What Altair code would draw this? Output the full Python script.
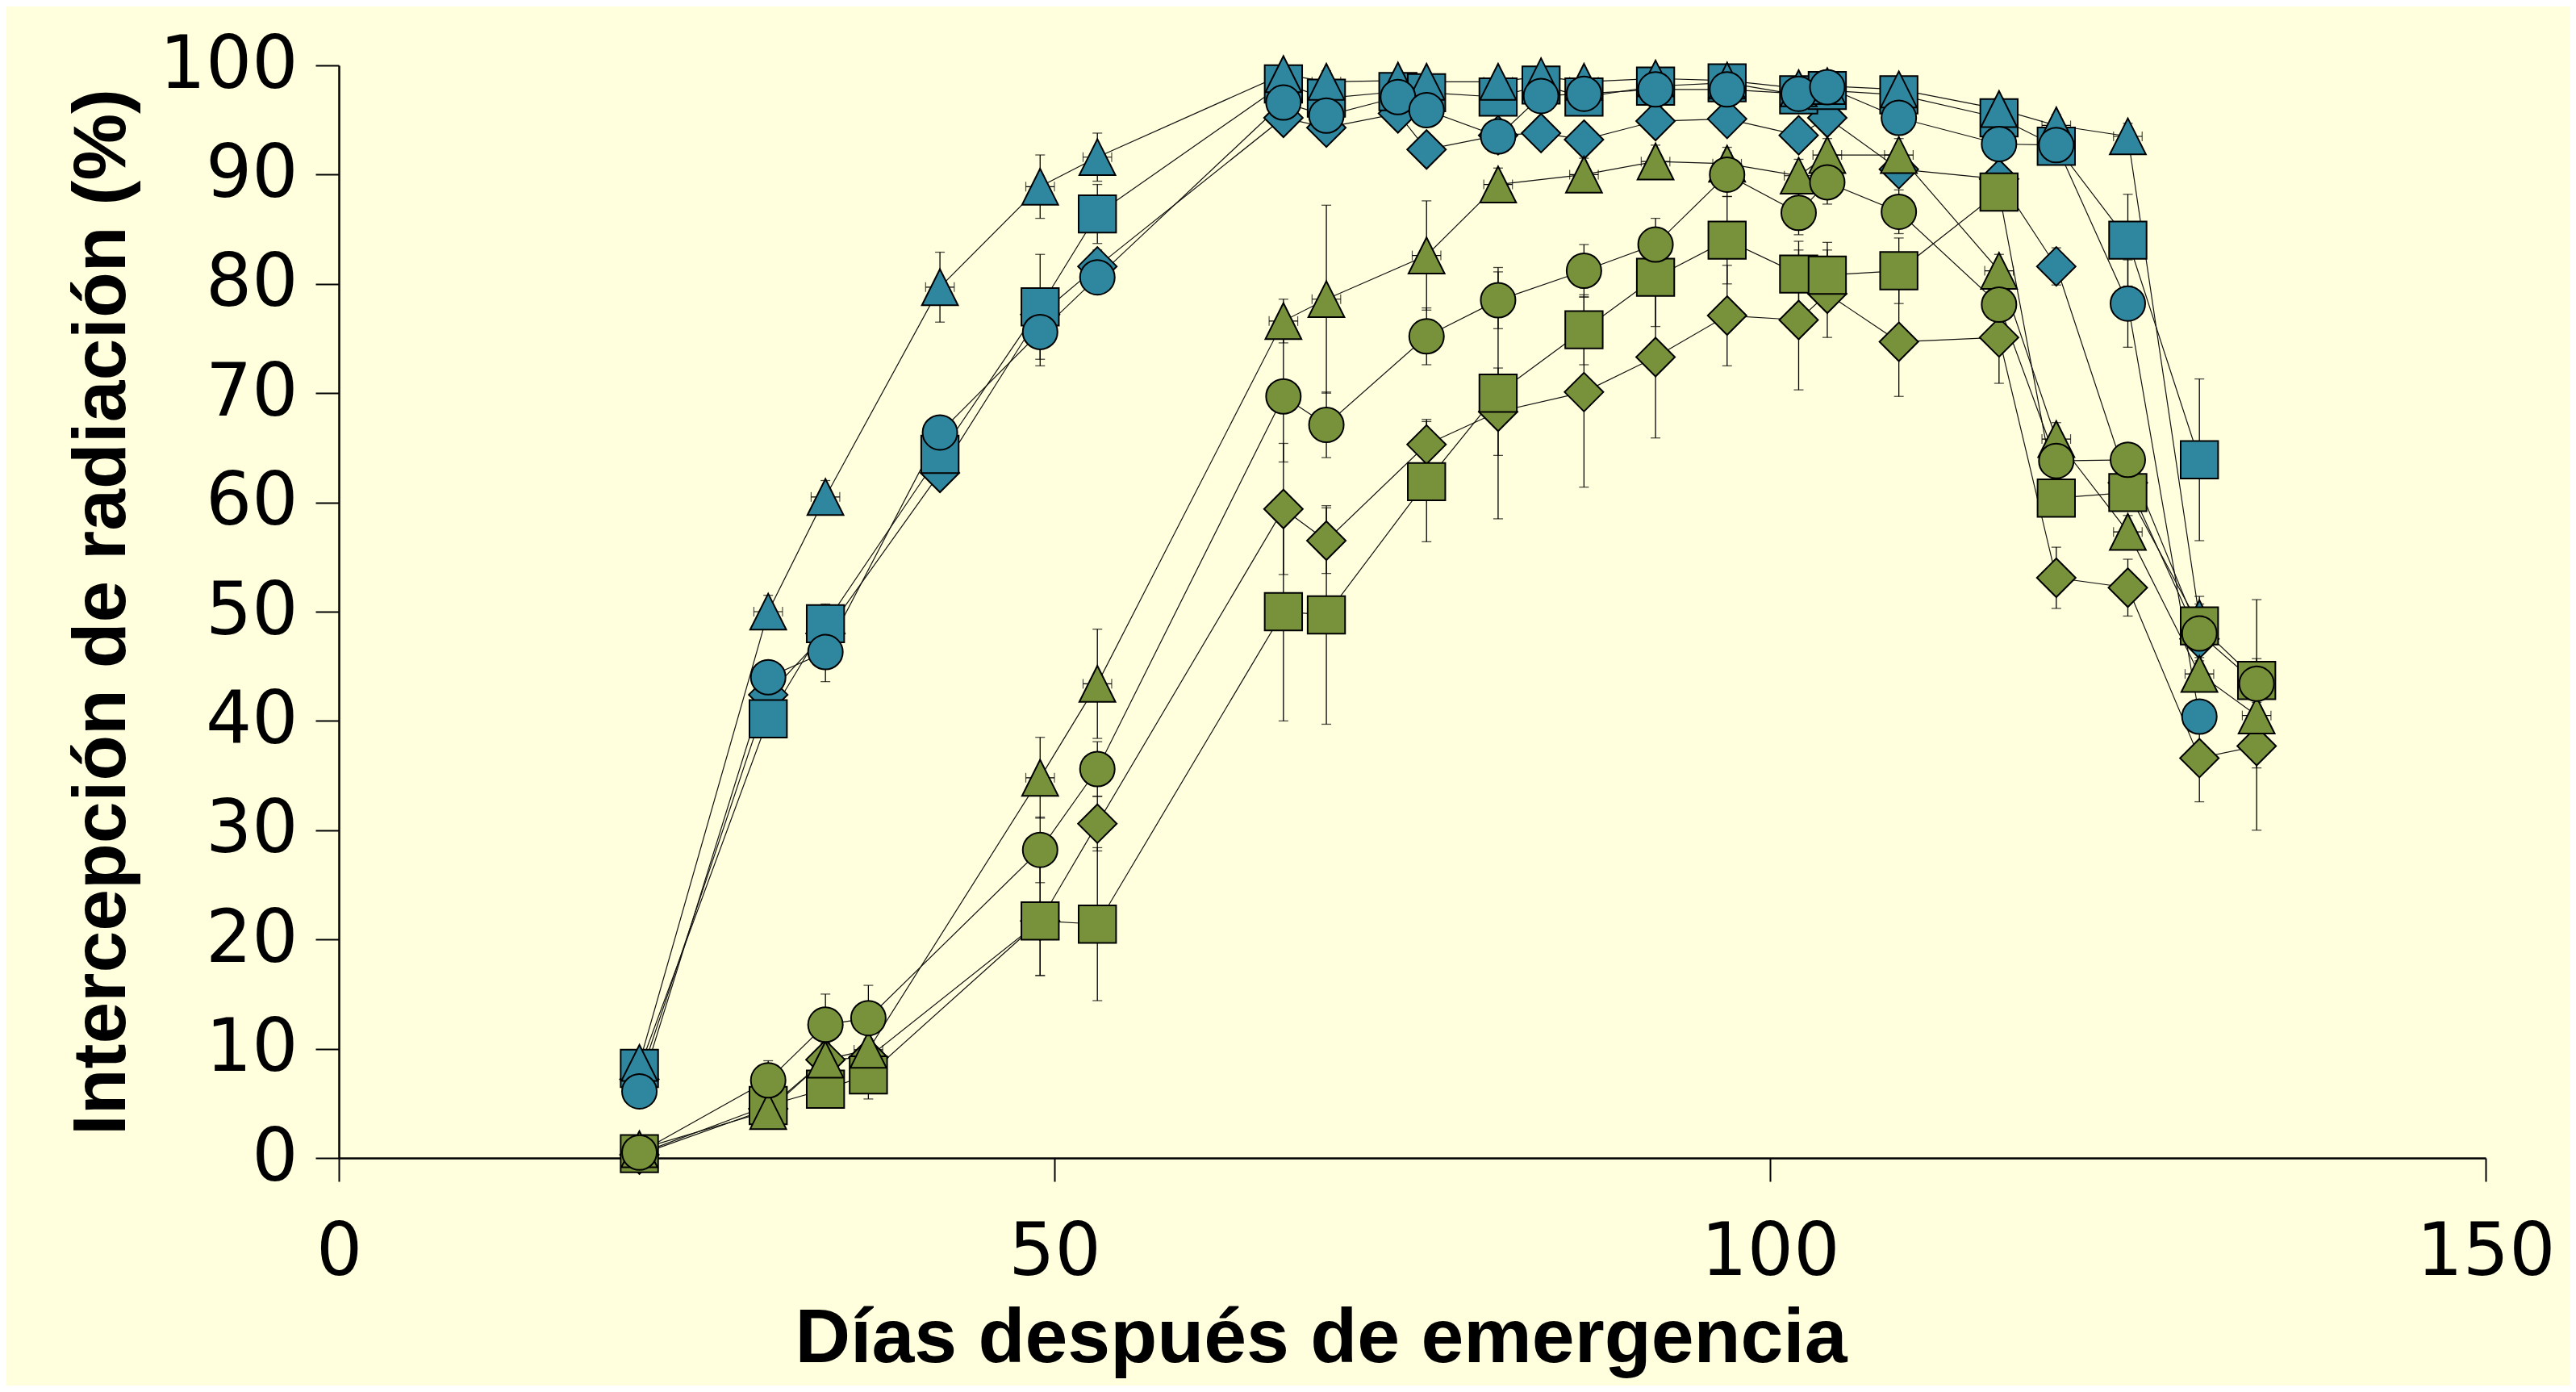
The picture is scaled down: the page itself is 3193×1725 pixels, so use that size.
import altair as alt
import pandas as pd

# ---- data ----
days_blue = [21, 30, 34, 42, 49, 53, 66, 69, 74, 76, 81, 84, 87, 92, 97, 102, 104, 109, 116, 120, 125, 130]
days_green = [21, 30, 34, 37, 49, 53, 66, 69, 76, 81, 87, 92, 97, 102, 104, 109, 116, 120, 125, 130, 134]

blue_diamond = [7.2, 42.4, 48.0, 62.7, 77.2, 81.6, 95.2, 94.3, 95.6, 92.3, 93.6, 93.8, 93.2, 94.9, 95.1, 93.6, 95.2, 90.5, 89.6, 81.6, 61.8, 47.5]
blue_diamond_err = [0.8, 1.2, 1.5, 1.2, 1.5, 1.5, 1.0, 1.0, 0.8, 0.8, 0.8, 0.8, 0.8, 0.8, 0.8, 0.8, 0.8, 1.0, 1.0, 1.7, 2.0, 2.0]
blue_square = [8.2, 40.2, 48.9, 64.4, 77.9, 86.4, 98.3, 97.0, 97.6, 97.5, 97.1, 98.2, 97.1, 98.1, 98.4, 97.3, 97.7, 97.3, 95.2, 92.6, 84.0, 63.9]
blue_square_err = [0.8, 1.2, 1.8, 1.2, 4.8, 2.7, 0.8, 0.8, 0.8, 0.8, 0.8, 0.6, 0.8, 0.6, 0.6, 0.8, 0.8, 0.8, 1.0, 1.0, 4.2, 7.4]
blue_triangle = [8.7, 50.0, 60.5, 79.7, 88.9, 91.6, 99.2, 98.5, 98.6, 98.5, 98.5, 99.0, 98.5, 98.8, 98.6, 97.9, 98.1, 97.8, 96.0, 94.5, 93.5, 49.4]
blue_triangle_err = [0.8, 1.5, 1.5, 3.2, 2.9, 2.2, 0.8, 1.0, 0.8, 0.8, 0.8, 0.6, 0.8, 0.6, 0.6, 0.8, 0.8, 0.8, 1.0, 1.0, 1.2, 2.0]
blue_circle = [6.1, 44.0, 46.3, 66.4, 75.6, 80.6, 96.6, 95.4, 97.1, 95.9, 93.5, 97.2, 97.4, 97.8, 97.8, 97.4, 98.0, 95.2, 92.8, 92.7, 78.2, 40.4]
blue_circle_err = [0.8, 1.2, 2.7, 1.2, 3.1, 1.5, 0.8, 0.8, 0.8, 0.8, 0.8, 0.6, 0.8, 0.6, 0.6, 0.8, 0.8, 0.8, 1.0, 1.0, 4.0, 1.0]

green_diamond = [0.3, 4.5, 9.0, 9.2, 21.7, 30.6, 59.4, 56.5, 65.3, 68.3, 70.1, 73.3, 77.1, 76.7, 79.1, 74.7, 75.1, 53.1, 52.2, 36.6, 37.7]
green_diamond_err = [0.5, 1.0, 1.5, 1.5, 5.0, 2.5, 6.0, 3.0, 2.3, 4.0, 8.7, 7.4, 4.6, 6.4, 4.0, 5.0, 4.2, 2.8, 2.6, 4.0, 7.7]
green_square = [0.4, 4.8, 6.3, 7.6, 21.7, 21.4, 50.0, 49.7, 61.9, 70.0, 75.8, 80.6, 84.0, 80.9, 80.8, 81.2, 88.4, 60.4, 60.9, 48.7, 43.7]
green_square_err = [0.5, 1.0, 1.6, 2.2, 5.0, 7.0, 10.0, 10.0, 5.5, 11.5, 3.2, 4.5, 4.0, 3.0, 3.0, 3.0, 1.5, 1.5, 1.5, 2.0, 2.0]
green_triangle = [0.8, 4.3, 9.0, 9.9, 34.8, 43.4, 76.6, 78.6, 82.6, 89.1, 90.0, 91.2, 91.0, 89.9, 91.8, 91.8, 81.2, 65.8, 57.3, 44.3, 40.5]
green_triangle_err = [0.5, 1.0, 1.5, 1.0, 3.7, 5.0, 2.0, 8.6, 5.0, 1.5, 1.5, 1.5, 1.5, 1.5, 1.5, 1.5, 1.5, 1.5, 1.5, 1.5, 1.5]
green_circle = [0.5, 7.1, 12.2, 12.8, 28.2, 35.6, 69.7, 67.1, 75.2, 78.5, 81.2, 83.6, 90.0, 86.5, 89.3, 86.6, 78.1, 63.8, 63.9, 48.0, 43.4]
green_circle_err = [0.5, 1.8, 2.8, 3.0, 3.0, 2.5, 6.0, 3.0, 2.6, 2.6, 2.4, 2.4, 2.0, 2.0, 2.0, 2.0, 2.0, 1.5, 1.5, 1.5, 7.7]

triangle_day_err = 1.0  # small horizontal error bars on triangles

series = [
    ("azul-rombo", "azul", "rombo", days_blue, blue_diamond, blue_diamond_err),
    ("azul-cuadrado", "azul", "cuadrado", days_blue, blue_square, blue_square_err),
    ("azul-triangulo", "azul", "triangulo", days_blue, blue_triangle, blue_triangle_err),
    ("azul-circulo", "azul", "circulo", days_blue, blue_circle, blue_circle_err),
    ("verde-rombo", "verde", "rombo", days_green, green_diamond, green_diamond_err),
    ("verde-cuadrado", "verde", "cuadrado", days_green, green_square, green_square_err),
    ("verde-triangulo", "verde", "triangulo", days_green, green_triangle, green_triangle_err),
    ("verde-circulo", "verde", "circulo", days_green, green_circle, green_circle_err),
]

rows = []
idx = 0
for name, grp, shp, dd, vv, ee in series:
    for d, v, e in zip(dd, vv, ee):
        rows.append({"idx": idx, "serie": name, "grupo": grp, "forma": shp, "dia": d, "val": v,
                     "lo": v - e, "hi": v + e,
                     "dlo": d - triangle_day_err, "dhi": d + triangle_day_err})
        idx += 1
df = pd.DataFrame(rows)

BG = "#FFFFDD"
BLUE = "#2F869F"
GREEN = "#77923B"

x_axis = alt.Axis(values=[0, 50, 100, 150], title="Días después de emergencia",
                  labelFont="DejaVu Sans", labelFontSize=90, labelColor="black",
                  labelPadding=44, labelFlush=False, labelOverlap=False,
                  tickSize=29, tickColor="black", tickWidth=2,
                  domainColor="black", domainWidth=2.5, grid=False,
                  titleFont="Liberation Sans", titleFontSize=95, titleFontWeight="bold",
                  titleColor="black", titleX=1217, titleY=252, titleAlign="center",
                  titleBaseline="alphabetic")
y_axis = alt.Axis(values=list(range(0, 101, 10)), title="Intercepción de radiación (%)",
                  labelFont="DejaVu Sans", labelFontSize=90, labelColor="black",
                  labelPadding=22, labelFlush=False, labelOverlap=False,
                  tickSize=29, tickColor="black", tickWidth=2,
                  domainColor="black", domainWidth=2.5, grid=False,
                  titleFont="Liberation Sans", titleFontSize=93, titleFontWeight="bold",
                  titleColor="black", titlePadding=46)

xs = alt.Scale(domain=[0, 150], nice=False, zero=False)
ys = alt.Scale(domain=[0, 100], nice=False)

X = alt.X("dia:Q", scale=xs, axis=x_axis)
Y = alt.Y("val:Q", scale=ys, axis=y_axis)

base = alt.Chart(df)

lines = base.mark_line(color="#111111", strokeWidth=1.2).encode(
    x=X, y=Y, detail="serie:N", order="dia:Q")

err_v = base.mark_rule(color="black", strokeWidth=1.3).encode(
    x=X, y=alt.Y("lo:Q", scale=ys, axis=y_axis), y2="hi:Q")
cap_lo = base.mark_tick(orient="horizontal", color="black", size=12, thickness=1.3).encode(
    x=X, y=alt.Y("lo:Q", scale=ys, axis=y_axis))
cap_hi = base.mark_tick(orient="horizontal", color="black", size=12, thickness=1.3).encode(
    x=X, y=alt.Y("hi:Q", scale=ys, axis=y_axis))

tri = base.transform_filter(alt.datum.forma == "triangulo")
err_h = tri.mark_rule(color="black", strokeWidth=1.2).encode(
    x=alt.X("dlo:Q", scale=xs, axis=x_axis), x2="dhi:Q", y=Y)
cap_l = tri.mark_tick(orient="vertical", color="black", size=12, thickness=1.2).encode(
    x=alt.X("dlo:Q", scale=xs, axis=x_axis), y=Y)
cap_r = tri.mark_tick(orient="vertical", color="black", size=12, thickness=1.2).encode(
    x=alt.X("dhi:Q", scale=xs, axis=x_axis), y=Y)

shape_domain = ["rombo", "cuadrado", "triangulo", "circulo"]
shape_range = ["M0,-1L1,0L0,1L-1,0Z", "square", "M0,-1L-1,1L1,1Z", "circle"]
size_range = [2304, 1849, 2304, 2304]

points = base.mark_point(filled=True, opacity=1, stroke="black", strokeWidth=2).encode(
    x=X, y=Y,
    shape=alt.Shape("forma:N", scale=alt.Scale(domain=shape_domain, range=shape_range), legend=None),
    size=alt.Size("forma:N", scale=alt.Scale(domain=shape_domain, range=size_range), legend=None),
    fill=alt.Fill("grupo:N", scale=alt.Scale(domain=["azul", "verde"], range=[BLUE, GREEN]), legend=None),
    order=alt.Order("idx:Q"),
)

chart = alt.layer(lines, err_v, cap_lo, cap_hi, err_h, cap_l, cap_r, points).properties(
    width=2661, height=1354,
    padding={"left": 412, "top": 73, "right": 104, "bottom": 282},
    autosize=alt.AutoSizeParams(type="none"),
    background=BG,
).configure_view(stroke="transparent")

chart.save("out.html", embed_options={"renderer": "svg", "actions": False})
